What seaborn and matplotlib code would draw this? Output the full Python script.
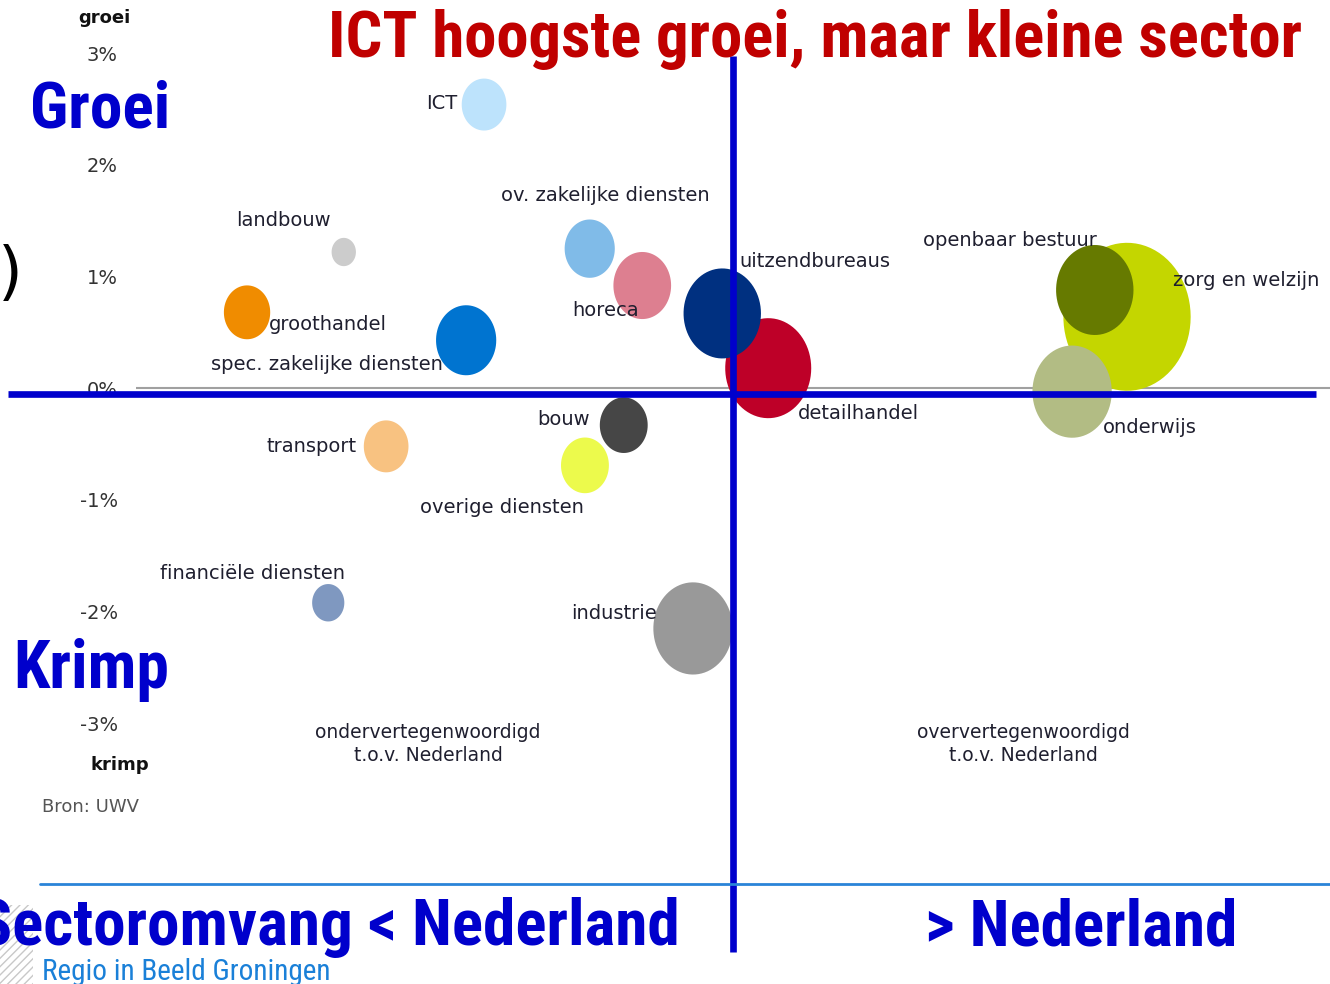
import numpy as np
import pandas as pd
import matplotlib.pyplot as plt
from matplotlib import font_manager
from matplotlib.path import Path
from matplotlib.patches import Rectangle
import seaborn as sns

# Data
sectors = ["ICT", "landbouw", "groothandel", "spec. zakelijke diensten",
           "ov. zakelijke diensten", "horeca", "detailhandel", "uitzendbureaus",
           "bouw", "overige diensten", "transport", "financiële diensten",
           "industrie", "zorg en welzijn", "openbaar bestuur", "onderwijs"]
# relative sector size vs Nederland (index, NL = 100)
omvang_index = [58.3, 34.8, 18.6, 55.3, 76.0, 84.8, 105.9, 98.2,
                81.7, 75.2, 41.9, 32.2, 93.3, 166.0, 160.6, 156.8]
# growth in %
groei = [2.54, 1.22, 0.68, 0.43, 1.25, 0.92, 0.18, 0.67,
         -0.33, -0.69, -0.52, -1.92, -2.15, 0.64, 0.88, -0.03]
# bubble size (employment, relative)
werkgelegenheid = [27, 8, 29, 49, 34, 45, 100, 81,
                   31, 31, 27, 14, 85, 219, 81, 85]
colors = ["#bde3fc", "#cccccc", "#f08c00", "#0074d0", "#80bbe8", "#dd7f90",
          "#be0028", "#003080", "#464646", "#ecfa4c", "#f8c281", "#7f98c0",
          "#999999", "#c4d600", "#667a00", "#b2bc84"]
yticks = [-3, -2, -1, 0, 1, 2, 3]

# label offsets from bubble centre (pixels)
label_offsets = [(-42, 1), (-60, 32), (81, -12), (-139, -24), (16, 53), (-37, -25),
                 (90, -45), (93, 52), (-60, 6), (-83, -42), (-75, 0), (-76, 29),
                 (-79, 15), (119, 36), (-85, 49), (78, -36)]

df = pd.DataFrame({"sector": sectors, "x": omvang_index, "y": groei,
                   "size": werkgelegenheid})

W, H = 1330, 984
BLUE = "#0000cc"

installed = {f.name for f in font_manager.fontManager.ttflist}
NARROW = next((f for f in ["Liberation Sans Narrow", "Roboto Condensed", "Liberation Sans"]
               if f in installed), "DejaVu Sans")


def fx(px):
    return px / W


def fy(py):
    return 1 - py / H


def fit_width(txt, target_px):
    """Scale a text's font size so it spans the target width in pixels."""
    fig.canvas.draw()
    w = txt.get_window_extent().width
    txt.set_fontsize(txt.get_fontsize() * target_px / w)


sns.set_style("white")
plt.rcParams["font.family"] = ["DejaVu Sans"]

fig = plt.figure(figsize=(W / 100, H / 100), dpi=100)
ax = fig.add_axes([136 / W, 0, 1 - 136 / W, 1])
ax.set_xlim(0, 200)
ax.set_ylim(-5.333, 3.476)

# slightly tall ellipse marker
t = np.linspace(0, 2 * np.pi, 80)
ellipse = Path(np.column_stack((0.43 * np.cos(t), 0.5 * np.sin(t))), closed=True)

ax.axhline(0, color="#a0a0a0", lw=1.5, zorder=1)

smax = 51.84 * max(werkgelegenheid)
sns.scatterplot(data=df, x="x", y="y", hue="sector", size="size",
                palette=colors, hue_order=sectors,
                sizes=(0, smax), size_norm=(0, max(werkgelegenheid)),
                marker=ellipse, linewidth=0, alpha=1, legend=False, ax=ax, zorder=3)

for name, xv, yv, (dx, dy) in zip(sectors, omvang_index, groei, label_offsets):
    ax.annotate(name, (xv, yv), xytext=(dx, dy), textcoords="offset pixels",
                ha="center", va="center", fontsize=14, color="#1f1f2f", zorder=4)

# quadrant lines (NL reference)
ax.plot([-21.4, 197.6], [-0.054, -0.054], color=BLUE, lw=4.8, clip_on=False,
        solid_capstyle="butt", zorder=5)
ax.plot([100, 100], [2.975, -5.046], color=BLUE, lw=4.8, clip_on=False,
        solid_capstyle="butt", zorder=5)

ax.set_yticks(yticks)
ax.set_yticklabels([f"{v}%" for v in yticks], fontsize=14, color="#333333")
ax.tick_params(axis="y", length=0, pad=13)
ax.set_xticks([])
ax.set_xlabel("")
ax.set_ylabel("")
sns.despine(ax=ax, left=True, bottom=True)

# quadrant notes
ax.text(fx(428), fy(744), "ondervertegenwoordigd\nt.o.v. Nederland", transform=fig.transFigure,
        ha="center", va="center", fontsize=13.5, color="#1f1f2f", linespacing=1.25)
ax.text(fx(1023), fy(744), "oververtegenwoordigd\nt.o.v. Nederland", transform=fig.transFigure,
        ha="center", va="center", fontsize=13.5, color="#1f1f2f", linespacing=1.25)

# decorations and headings
fig.patches.append(Rectangle((0, 0), fx(33), fy(905), transform=fig.transFigure,
                             fill=False, hatch="////", edgecolor="#c8c8c8", lw=0))
fig.lines.append(plt.Line2D([fx(40), 1], [fy(884), fy(884)], transform=fig.transFigure,
                            color="#2a84d8", lw=2))

title = fig.text(fx(328), fy(57), "ICT hoogste groei, maar kleine sector", fontsize=48,
                 fontweight="bold", family=NARROW, color="#c00000", va="baseline", ha="left")
groei_t = fig.text(fx(30), fy(127), "Groei", fontsize=47, fontweight="bold", family=NARROW,
                   color=BLUE, va="baseline", ha="left")
krimp_t = fig.text(fx(13), fy(688), "Krimp", fontsize=47, fontweight="bold", family=NARROW,
                   color=BLUE, va="baseline", ha="left")
right_t = fig.text(fx(925), fy(945), "> Nederland", fontsize=47, fontweight="bold",
                   family=NARROW, color=BLUE, va="baseline", ha="left")
regio_t = fig.text(fx(42), fy(980), "Regio in Beeld Groningen", fontsize=20, family=NARROW,
                   color="#1a80d8", ha="left", va="baseline")
fit_width(title, 974)
fit_width(groei_t, 140)
fit_width(krimp_t, 156)
fit_width(right_t, 312)
fit_width(regio_t, 288)
fig.text(fx(680), fy(945), "Sectoromvang < Nederland", fontsize=right_t.get_fontsize(),
         fontweight="bold", family=NARROW, color=BLUE, va="baseline", ha="right")

fig.text(fx(104), fy(18), "groei", fontsize=13, fontweight="bold", color="#111111",
         ha="center", va="center")
fig.text(fx(120), fy(765), "krimp", fontsize=13, fontweight="bold", color="#111111",
         ha="center", va="center")
fig.text(fx(42), fy(807), "Bron: UWV", fontsize=13, color="#555555", ha="left", va="center")
fig.text(fx(-2), fy(275), ")", fontsize=46, color="black", ha="left", va="center")

fig.savefig("out.png", dpi=100)
